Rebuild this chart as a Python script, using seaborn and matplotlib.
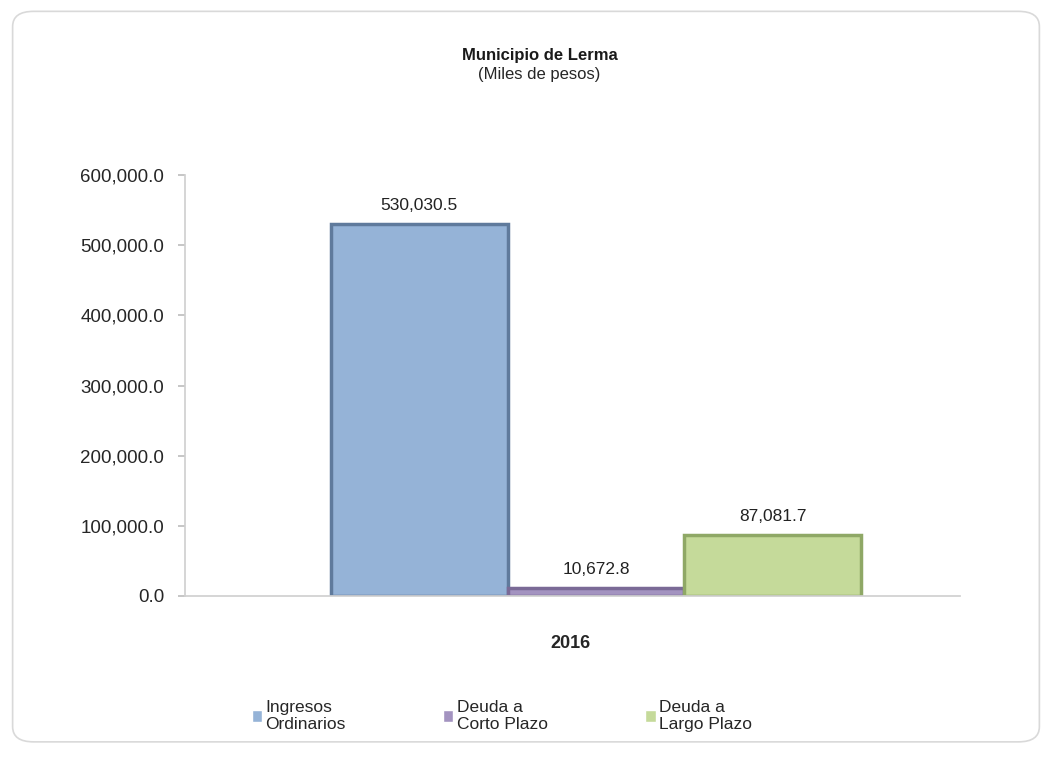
import matplotlib
matplotlib.use("Agg")
import matplotlib.pyplot as plt
import matplotlib.transforms as mtransforms
import seaborn as sns
import pandas as pd
from matplotlib.patches import FancyBboxPatch
from matplotlib.ticker import FuncFormatter

years = ["2016"]
series = ["Ingresos\nOrdinarios", "Deuda a\nCorto Plazo", "Deuda a\nLargo Plazo"]
values = [530030.5, 10672.8, 87081.7]
colors = ["#95B3D7", "#A393C0", "#C5DA9A"]
edge_colors = ["#5F7A9C", "#7A6A96", "#8FA866"]
yticks = [0, 100000, 200000, 300000, 400000, 500000, 600000]

df = pd.DataFrame({"year": years * len(series), "serie": series, "valor": values})

sns.set_theme(style="white")
plt.rcParams["font.family"] = ["Liberation Sans", "DejaVu Sans"]

fig = plt.figure(figsize=(10.52, 7.57), dpi=100)
fig.patch.set_facecolor("white")
border = FancyBboxPatch((0.012, 0.02), 0.976, 0.965, boxstyle="round,pad=0,rounding_size=0.02",
                        transform=fig.transFigure, fill=False, edgecolor="#D9D9D9", linewidth=1.2)
fig.add_artist(border)

ax = fig.add_axes([0.176, 0.2127, 0.737, 0.556])
sns.barplot(data=df, x="year", y="valor", hue="serie", palette=colors, ax=ax,
            width=0.8, legend=True, saturation=1)

for cont, ec in zip(ax.containers, edge_colors):
    for p in cont:
        p.set_edgecolor(ec)
        p.set_linewidth(2.5)
    ax.bar_label(cont, labels=[f"{v:,.1f}" for v in cont.datavalues], padding=8,
                 fontsize=12.5, color="#222222")

ax.set_xlim(-0.62, 0.55)
ax.set_ylim(0, 600000)
ax.set_yticks(yticks)
ax.yaxis.set_major_formatter(FuncFormatter(lambda v, p: f"{v:,.1f}"))
ax.tick_params(axis="y", labelsize=13.5, labelcolor="#262626", length=5, color="#BFBFBF",
               left=True, pad=10)
ax.tick_params(axis="x", labelsize=13, length=0, pad=28)
offset = mtransforms.ScaledTranslation(-0.26, 0, fig.dpi_scale_trans)
for lbl in ax.get_xticklabels():
    lbl.set_fontweight("bold")
    lbl.set_transform(lbl.get_transform() + offset)
ax.set_xlabel("")
ax.set_ylabel("")
for side in ["top", "right"]:
    ax.spines[side].set_visible(False)
ax.spines["left"].set_color("#D0D0D0")
ax.spines["bottom"].set_color("#D0D0D0")

handles, labels = ax.get_legend_handles_labels()
ax.legend_.remove()
fig.legend(handles, labels, loc="center", bbox_to_anchor=(0.477, 0.054), ncol=3,
           frameon=False, fontsize=12.5, handlelength=0.6, handleheight=0.6,
           handletextpad=0.2, columnspacing=5.6)

fig.text(0.513, 0.927, "Municipio de Lerma", ha="center", va="center",
         fontsize=12, fontweight="bold", color="#1a1a1a")
fig.text(0.513, 0.901, "(Miles de pesos)", ha="center", va="center",
         fontsize=12, color="#262626")

fig.savefig("out.png", dpi=100)
